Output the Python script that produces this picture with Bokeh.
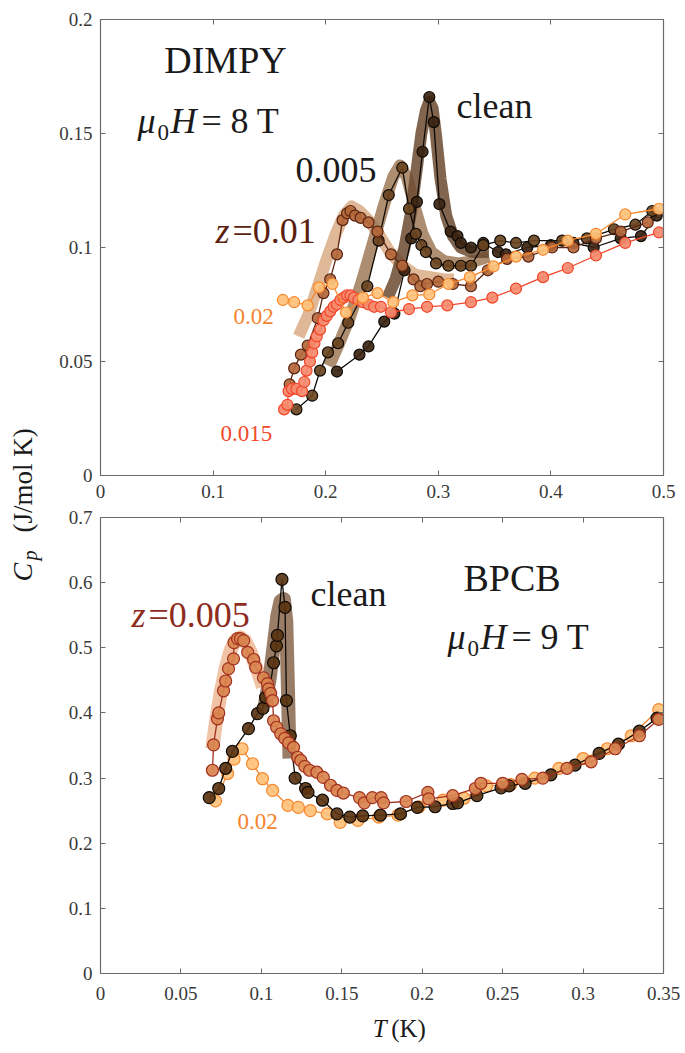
import math
from bokeh.plotting import figure
from bokeh.models import Range1d, LinearAxis, FixedTicker, Label
from bokeh.layouts import row, column
from bokeh.embed import file_html
from bokeh.resources import INLINE

FONT = "Liberation Serif"

# ---------------- DIMPY (top panel), mu0H = 8 T ----------------
top_xticks = [0, 0.1, 0.2, 0.3, 0.4, 0.5]
top_xticklabels = ["0", "0.1", "0.2", "0.3", "0.4", "0.5"]
top_yticks = [0, 0.05, 0.1, 0.15, 0.2]
top_yticklabels = ["0", "0.05", "0.1", "0.15", "0.2"]

d_clean_T = [0.210, 0.230, 0.238, 0.252, 0.261, 0.270, 0.276, 0.281, 0.286, 0.292, 0.296,
             0.301, 0.311, 0.317, 0.320, 0.329, 0.340, 0.353, 0.360, 0.379, 0.400, 0.420,
             0.438, 0.462, 0.480, 0.494]
d_clean_C = [0.0456, 0.053, 0.0566, 0.0675, 0.071, 0.090, 0.104, 0.120, 0.142, 0.166, 0.155,
             0.119, 0.107, 0.105, 0.102, 0.100, 0.102, 0.098, 0.097, 0.100, 0.101, 0.102,
             0.100, 0.104, 0.105, 0.114]

d_005_T = [0.174, 0.188, 0.195, 0.202, 0.211, 0.220, 0.237, 0.247, 0.256, 0.268, 0.274,
           0.280, 0.285, 0.289, 0.298, 0.309, 0.320, 0.329, 0.340, 0.355, 0.369, 0.385,
           0.410, 0.432, 0.456, 0.475, 0.490]
d_005_C = [0.029, 0.035, 0.046, 0.054, 0.058, 0.067, 0.083, 0.103, 0.123, 0.135, 0.117,
           0.106, 0.101, 0.098, 0.093, 0.092, 0.092, 0.092, 0.101, 0.103, 0.102, 0.103,
           0.103, 0.104, 0.108, 0.110, 0.116]

d_01_T = [0.168, 0.172, 0.178, 0.184, 0.193, 0.198, 0.204, 0.210, 0.215, 0.219, 0.222,
          0.226, 0.231, 0.238, 0.246, 0.258, 0.268, 0.278, 0.284, 0.290, 0.300, 0.313,
          0.329, 0.344, 0.361, 0.380, 0.401, 0.420, 0.440, 0.462, 0.486]
d_01_C = [0.040, 0.047, 0.053, 0.057, 0.069, 0.080, 0.086, 0.097, 0.112, 0.115, 0.116,
          0.114, 0.113, 0.111, 0.107, 0.097, 0.092, 0.086, 0.083, 0.084, 0.085, 0.084,
          0.083, 0.090, 0.095, 0.096, 0.100, 0.100, 0.104, 0.107, 0.111]

d_015_T = [0.163, 0.166, 0.167, 0.170, 0.174, 0.179, 0.181, 0.183, 0.186, 0.188, 0.190,
           0.192, 0.195, 0.198, 0.201, 0.204, 0.207, 0.210, 0.213, 0.216, 0.219, 0.222,
           0.225, 0.229, 0.233, 0.238, 0.243, 0.249, 0.258, 0.274, 0.290, 0.308, 0.329,
           0.348, 0.369, 0.393, 0.415, 0.440, 0.466, 0.496]
d_015_C = [0.029, 0.031, 0.037, 0.038, 0.038, 0.037, 0.041, 0.046, 0.050, 0.054, 0.058,
           0.061, 0.064, 0.068, 0.070, 0.072, 0.074, 0.075, 0.077, 0.078, 0.079, 0.079,
           0.078, 0.077, 0.076, 0.075, 0.074, 0.074, 0.0716, 0.073, 0.074, 0.0746, 0.076,
           0.078, 0.082, 0.087, 0.091, 0.0965, 0.102, 0.1066]

d_02_T = [0.162, 0.172, 0.184, 0.194, 0.206, 0.218, 0.233, 0.246, 0.260, 0.277, 0.292,
          0.309, 0.328, 0.349, 0.369, 0.393, 0.415, 0.440, 0.466, 0.496]
d_02_C = [0.077, 0.076, 0.0746, 0.0825, 0.084, 0.0715, 0.078, 0.080, 0.076, 0.079, 0.0794,
          0.084, 0.087, 0.0917, 0.096, 0.099, 0.103, 0.106, 0.1145, 0.117]

# fitted curves (thick bands)
fit_clean_T = [0.255, 0.262, 0.270, 0.276, 0.281, 0.285, 0.289, 0.292, 0.295, 0.298, 0.302,
               0.307, 0.313, 0.320, 0.330, 0.345]
fit_clean_C = [0.078, 0.086, 0.100, 0.116, 0.135, 0.150, 0.160, 0.164, 0.161, 0.149, 0.130,
               0.114, 0.105, 0.100, 0.098, 0.098]
fit_005_T = [0.203, 0.212, 0.222, 0.232, 0.242, 0.252, 0.260, 0.266, 0.272, 0.279, 0.286,
             0.294, 0.305, 0.318, 0.332, 0.345]
fit_005_C = [0.048, 0.058, 0.070, 0.085, 0.102, 0.119, 0.131, 0.136, 0.131, 0.118, 0.106,
             0.098, 0.094, 0.093, 0.094, 0.096]
fit_01_T = [0.176, 0.185, 0.193, 0.201, 0.209, 0.216, 0.223, 0.230, 0.238, 0.247, 0.257,
            0.268, 0.280, 0.293, 0.305, 0.314]
fit_01_C = [0.061, 0.071, 0.083, 0.095, 0.106, 0.114, 0.118, 0.116, 0.112, 0.106, 0.098,
            0.092, 0.088, 0.087, 0.086, 0.086]

# ---------------- BPCB (bottom panel), mu0H = 9 T ----------------
bot_xticks = [0, 0.05, 0.1, 0.15, 0.2, 0.25, 0.3, 0.35]
bot_xticklabels = ["0", "0.05", "0.1", "0.15", "0.2", "0.25", "0.3", "0.35"]
bot_yticks = [0, 0.1, 0.2, 0.3, 0.4, 0.5, 0.6, 0.7]
bot_yticklabels = ["0", "0.1", "0.2", "0.3", "0.4", "0.5", "0.6", "0.7"]

b_clean_T = [0.0676, 0.0735, 0.0778, 0.082, 0.092, 0.0976, 0.1010, 0.1026, 0.1050, 0.1076,
             0.1094, 0.110, 0.1128, 0.1147, 0.1156, 0.118, 0.121, 0.1275, 0.1290, 0.138,
             0.147, 0.155, 0.163, 0.174, 0.1865, 0.197, 0.208, 0.219, 0.222, 0.234, 0.249,
             0.254, 0.264, 0.280, 0.295, 0.310, 0.322, 0.335, 0.346]
b_clean_C = [0.270, 0.284, 0.315, 0.341, 0.376, 0.399, 0.407, 0.424, 0.433, 0.477,
             0.503, 0.519, 0.605, 0.562, 0.419, 0.365, 0.300, 0.284, 0.278, 0.266,
             0.245, 0.240, 0.242, 0.243, 0.245, 0.255, 0.256, 0.261, 0.262, 0.273, 0.285,
             0.288, 0.292, 0.305, 0.320, 0.338, 0.352, 0.372, 0.392]

b_005_T = [0.0696, 0.0703, 0.0727, 0.0735, 0.0765, 0.0778, 0.0796, 0.0827, 0.0830, 0.0852,
           0.0870, 0.0890, 0.0915, 0.0952, 0.0965, 0.1013, 0.1038, 0.1045, 0.1058, 0.1070,
           0.1076, 0.1095, 0.1120, 0.1145, 0.1170, 0.1200, 0.1225, 0.1245, 0.1270, 0.1300,
           0.1345, 0.1385, 0.1430, 0.1470, 0.1510, 0.1610, 0.1640, 0.1690, 0.1745, 0.1760,
           0.1900, 0.2035, 0.2040, 0.2190, 0.2330, 0.2365, 0.2500, 0.262, 0.275, 0.290,
           0.305, 0.320, 0.335, 0.347]
b_005_C = [0.312, 0.351, 0.391, 0.400, 0.434, 0.449, 0.468, 0.483, 0.508, 0.514,
           0.514, 0.511, 0.493, 0.482, 0.470, 0.454, 0.445, 0.437, 0.430, 0.419,
           0.388, 0.378, 0.368, 0.361, 0.354, 0.347, 0.332, 0.327, 0.318, 0.312,
           0.309, 0.301, 0.289, 0.281, 0.277, 0.270, 0.262, 0.270, 0.270, 0.262,
           0.264, 0.278, 0.268, 0.273, 0.284, 0.292, 0.292, 0.298, 0.300, 0.315,
           0.325, 0.345, 0.365, 0.390]

b_02_T = [0.0715, 0.079, 0.083, 0.088, 0.0945, 0.1007, 0.107, 0.1165, 0.123, 0.1305, 0.141,
          0.149, 0.160, 0.173, 0.185, 0.198, 0.213, 0.226, 0.240, 0.255, 0.270, 0.285,
          0.300, 0.315, 0.330, 0.347]
b_02_C = [0.265, 0.307, 0.329, 0.345, 0.322, 0.299, 0.281, 0.258, 0.255, 0.250, 0.245,
          0.232, 0.235, 0.240, 0.243, 0.256, 0.266, 0.269, 0.288, 0.290, 0.300, 0.315,
          0.330, 0.345, 0.365, 0.405]

bfit_clean_T = [0.102, 0.105, 0.108, 0.110, 0.112, 0.114, 0.1155, 0.1165, 0.1175]
bfit_clean_C = [0.41, 0.45, 0.51, 0.55, 0.572, 0.575, 0.54, 0.44, 0.33]
bfit_005_T = [0.0695, 0.072, 0.075, 0.078, 0.081, 0.084, 0.087, 0.090, 0.093, 0.096, 0.099, 0.101]
bfit_005_C = [0.345, 0.390, 0.435, 0.470, 0.497, 0.512, 0.516, 0.510, 0.495, 0.475, 0.455, 0.440]

AXC = "#6a6a6a"
TXT = "#1a1a1a"


def make_axes(p, xticks, xlabels, yticks, ylabels, xstand):
    p.grid.visible = False
    p.outline_line_color = None
    p.add_layout(LinearAxis(), "above")
    p.add_layout(LinearAxis(), "right")
    for ax in p.xaxis:
        ax.ticker = FixedTicker(ticks=xticks)
    for ax in p.yaxis:
        ax.ticker = FixedTicker(ticks=yticks)
    for ax in list(p.xaxis) + list(p.yaxis):
        ax.major_tick_in = 5
        ax.major_tick_out = 0
        ax.minor_tick_line_color = None
        ax.axis_line_color = AXC
        ax.axis_line_width = 1.2
        ax.major_tick_line_color = AXC
        ax.major_label_text_font = FONT
        ax.major_label_text_color = "#3a3a3a"
    p.below[0].major_label_overrides = dict(zip(xticks, xlabels))
    p.below[0].major_label_text_font_size = "19px"
    p.below[0].major_label_standoff = xstand
    p.left[0].major_label_overrides = dict(zip(yticks, ylabels))
    p.left[0].major_label_text_font_size = "19px"
    p.left[0].major_label_standoff = 8
    for ax in (p.above[0], p.right[0]):
        ax.major_label_text_font_size = "1px"
        ax.major_label_text_color = None
        ax.major_label_standoff = 0


def lab(p, x, y, text, size, color=TXT, style="normal", align="left", angle=0.0):
    p.add_layout(Label(x=x, y=y, text=text, text_font=FONT, text_font_size=f"{size}px",
                       text_color=color, text_font_style=style, text_align=align,
                       text_baseline="middle", angle=angle))


def series(p, T, C, fill, edge, size):
    p.line(T, C, line_color=edge, line_width=1.3)
    p.scatter(T, C, marker="circle", size=size, fill_color=fill, fill_alpha=0.92,
              line_color=edge, line_width=1.2)


def band(p, T, C, color, width):
    p.line(T, C, line_color=color, line_width=width, line_alpha=0.85, line_cap="butt",
           line_join="round")


# page pixel -> data helpers for annotation placement (frames: x 100..663)
def tx(px):
    return (px - 100) / 563 * 0.5


def ty(py):
    return (475 - py) / 456 * 0.2


def bx(px):
    return (px - 100) / 563 * 0.35


def by(py):
    return (973 - py) / 456 * 0.7


# ---------- y-label column (data units = page pixels) ----------
ylab = figure(width=44, height=1052, x_range=Range1d(0, 44), y_range=Range1d(1052, 0),
              x_axis_type=None, y_axis_type=None, toolbar_location=None,
              output_backend="svg", min_border=0)
ylab.grid.visible = False
ylab.outline_line_color = None
ang = math.pi / 2
lab(ylab, 22, 581, "C", 28, style="italic", angle=ang)
lab(ylab, 29, 560, "p", 20, style="italic", angle=ang)
lab(ylab, 22, 532, "(J/mol K)", 27, angle=ang)

# ---------- top panel ----------
p1 = figure(width=641, height=505, x_range=Range1d(0, 0.5), y_range=Range1d(0, 0.2),
            toolbar_location=None, output_backend="svg",
            min_border_left=56, min_border_right=22, min_border_top=19, min_border_bottom=30)
make_axes(p1, top_xticks, top_xticklabels, top_yticks, top_yticklabels, 9)

band(p1, fit_01_T, fit_01_C, "#d9ab85", 12)
band(p1, fit_005_T, fit_005_C, "#a07a58", 12)
band(p1, fit_clean_T, fit_clean_C, "#6b4a30", 12)
series(p1, d_clean_T, d_clean_C, "#3b2412", "#0d0905", 11)
series(p1, d_005_T, d_005_C, "#6a4420", "#0d0905", 11)
series(p1, d_01_T, d_01_C, "#b4683a", "#5a2210", 11)
series(p1, d_015_T, d_015_C, "#f58a6c", "#f2452a", 11)
series(p1, d_02_T, d_02_C, "#fec27c", "#f7872c", 11)

lab(p1, tx(225), ty(59.5), "DIMPY", 38, align="center")
lab(p1, tx(137), ty(120), "μ", 36, style="italic")
lab(p1, tx(157), ty(132), "0", 23)
lab(p1, tx(170), ty(120), "H", 36, style="italic")
lab(p1, tx(201), ty(120), "=", 36)
lab(p1, tx(230), ty(120), "8 T", 36)
lab(p1, tx(456), ty(105), "clean", 36)
lab(p1, tx(295), ty(169), "0.005", 36)
lab(p1, tx(215), ty(230), "z", 36, color="#5b1f10", style="italic")
lab(p1, tx(232), ty(230), "=0.01", 36, color="#5b1f10")
lab(p1, tx(233), ty(315.5), "0.02", 23, color="#f5842c")
lab(p1, tx(220), ty(432.5), "0.015", 23, color="#f24a2c")

# ---------- bottom panel ----------
p2 = figure(width=641, height=502, x_range=Range1d(0, 0.35), y_range=Range1d(0, 0.7),
            toolbar_location=None, output_backend="svg",
            min_border_left=56, min_border_right=22, min_border_top=12, min_border_bottom=34)
make_axes(p2, bot_xticks, bot_xticklabels, bot_yticks, bot_yticklabels, 13)

band(p2, bfit_005_T, bfit_005_C, "#ecb893", 14)
band(p2, bfit_clean_T, bfit_clean_C, "#87664c", 14)
series(p2, b_02_T, b_02_C, "#fec27c", "#f7872c", 12)
series(p2, b_clean_T, b_clean_C, "#5a3412", "#0d0905", 12)
series(p2, b_005_T, b_005_C, "#d9864f", "#a2301f", 12)

lab(p2, bx(310), by(593), "clean", 36)
lab(p2, bx(131), by(614), "z", 36, color="#8e2c1e", style="italic")
lab(p2, bx(148), by(614), "=0.005", 36, color="#8e2c1e")
lab(p2, bx(463), by(577.5), "BPCB", 38)
lab(p2, bx(447), by(636), "μ", 36, style="italic")
lab(p2, bx(467), by(648), "0", 23)
lab(p2, bx(480), by(636), "H", 36, style="italic")
lab(p2, bx(511), by(636), "=", 36)
lab(p2, bx(540), by(636), "9 T", 36)
lab(p2, bx(237), by(820.5), "0.02", 23, color="#f5842c")

# ---------- x-label row (data units = page pixels) ----------
xlab = figure(width=641, height=45, x_range=Range1d(44, 685), y_range=Range1d(1052, 1007),
              x_axis_type=None, y_axis_type=None, toolbar_location=None,
              output_backend="svg", min_border=0)
xlab.grid.visible = False
xlab.outline_line_color = None
lab(xlab, 354, 1028, "T", 25, style="italic")
lab(xlab, 375, 1028, "(K)", 25)

layout = row(ylab, column(p1, p2, xlab))
open("out.html", "w").write(file_html(layout, INLINE))
